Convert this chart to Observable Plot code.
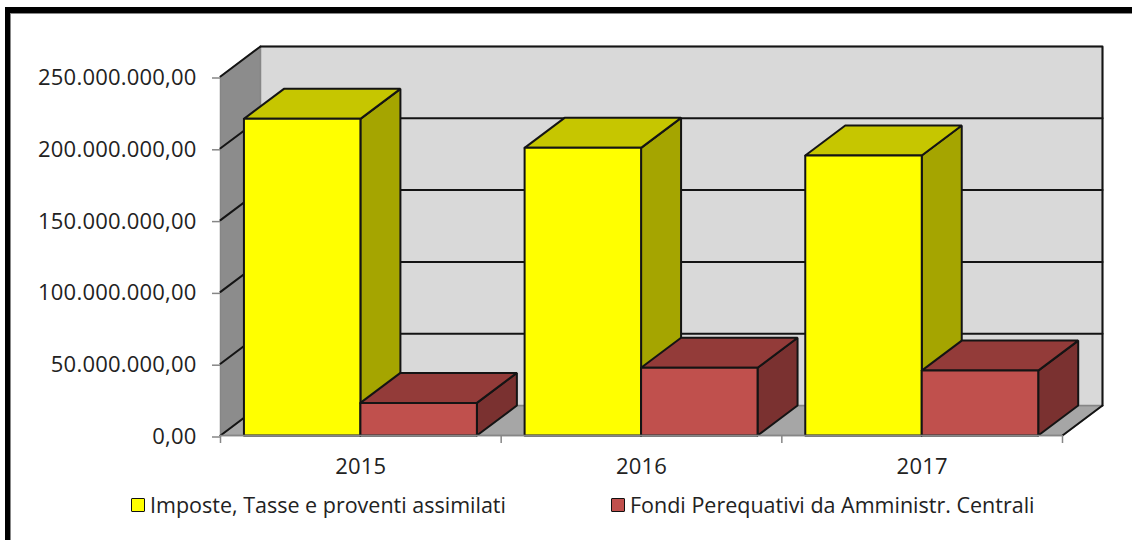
<!DOCTYPE html>
<html><head><meta charset="utf-8">
<script src="https://cdn.jsdelivr.net/npm/d3@7"></script>
<script src="https://cdn.jsdelivr.net/npm/@observablehq/plot@0.6"></script>
<style>
html,body{margin:0;padding:0;background:#fff;width:1132px;height:540px;overflow:hidden;position:relative}
#frame{position:absolute;left:5px;top:7px;right:-10px;bottom:-10px;border-top:6px solid #000;border-left:5px solid #000;box-shadow:inset 1px 1px 0 #888}
#chart{position:absolute;left:0;top:0}
#chart text{letter-spacing:.2px}
#legend{position:absolute;left:0;top:490px;width:1132px;height:30px;font:21.5px "Open Sans",sans-serif;color:#222}
.item{position:absolute;top:2px;white-space:nowrap;line-height:26px}
.sw{position:absolute;left:0;top:6px;width:12px;height:12px;border:1.5px solid #111;border-radius:1px}
.item span{position:absolute;left:19px;top:0}
</style></head><body>
<div id="chart"></div>
<div id="legend"></div>
<div id="frame"></div>
<script>
const years = ["2015", "2016", "2017"];
const imposte = [220.5e6, 200.3e6, 195e6];
const fondi = [22.7e6, 47.2e6, 45.2e6];
const seriesNames = ["Imposte, Tasse e proventi assimilati", "Fondi Perequativi da Amministr. Centrali"];
const yTicks = [0, 50e6, 100e6, 150e6, 200e6, 250e6];
const catEdges = [0, 1, 2, 3];
const catCentres = [0.5, 1.5, 2.5];

const depthX = 0.1425, depthY = 20.9e6, gap = 0.0835, barW = 0.415;
const yMax = 250e6, nCat = years.length;
const fmt = v => new Intl.NumberFormat("it-IT", {minimumFractionDigits: 2, maximumFractionDigits: 2, useGrouping: "always"}).format(v).replace(/^(\d{1,3})(\d{3})(,|\.)/, "$1.$2$3");

const edge = "#141414", soft = "#868686";
const poly = (pts, fill, stroke = edge, sw = 2) =>
  Plot.line([...pts, pts[0]].map(([x, y]) => ({x, y})), {x: "x", y: "y", fill, stroke, strokeWidth: sw, curve: "linear", strokeLinejoin: "miter"});
const seg = (pts, stroke = edge, sw = 2) =>
  Plot.line(pts.map(([x, y]) => ({x, y})), {x: "x", y: "y", stroke, strokeWidth: sw, curve: "linear"});

function box(x0, v, front, top, side) {
  const x1 = x0 + barW;
  return [
    poly([[x1, 0], [x1 + depthX, depthY], [x1 + depthX, v + depthY], [x1, v]], side),
    poly([[x0, v], [x0 + depthX, v + depthY], [x1 + depthX, v + depthY], [x1, v]], top),
    poly([[x0, 0], [x0, v], [x1, v], [x1, 0]], front)
  ];
}

const walls = [
  poly([[0, 0], [depthX, depthY], [nCat + depthX, depthY], [nCat, 0]], "#a6a6a6", soft, 1.5),
  poly([[0, 0], [0, yMax], [depthX, yMax + depthY], [depthX, depthY]], "#8c8c8c", soft, 1.5),
  poly([[depthX, depthY], [depthX, yMax + depthY], [nCat + depthX, yMax + depthY], [nCat + depthX, depthY]], "#d9d9d9", soft, 1.5),
  seg([[depthX, yMax + depthY], [nCat + depthX, yMax + depthY], [nCat + depthX, depthY]]),
  seg([[nCat, 0], [nCat + depthX, depthY]]),
  ...yTicks.map(t => seg([[0, t], [depthX, t + depthY]])),
  ...yTicks.slice(1, -1).map(t => seg([[depthX, t + depthY], [nCat + depthX, t + depthY]]))
];

const bars = years.flatMap((_, i) => [
  ...box(i + gap, imposte[i], "#ffff00", "#c6c600", "#a5a500"),
  ...box(i + gap + barW, fondi[i], "#c0504d", "#933b39", "#7a3130")
]);

const plot = Plot.plot({
  width: 1132, height: 490,
  marginLeft: 220, marginRight: 70, marginTop: 76, marginBottom: 55,
  style: {background: "transparent", fontFamily: '"Open Sans",sans-serif', overflow: "visible"},
  x: {type: "linear", domain: [0, nCat]},
  y: {type: "linear", domain: [0, yMax]},
  marks: [
    ...walls,
    ...bars,
    Plot.ruleY([0], {stroke: soft, strokeWidth: 1.5}),
    Plot.axisY({ticks: yTicks, tickSize: 8, tickPadding: 16, tickFormat: fmt, label: null, stroke: soft, strokeWidth: 1.5, fill: "#222", fontSize: 22, dy: 1.5}),
    Plot.axisX({ticks: catEdges, tickSize: 8, tickFormat: () => "", label: null, stroke: soft, strokeWidth: 1.5}),
    Plot.axisX({ticks: catCentres, tickSize: 0, tickPadding: 23, tickFormat: d => years[Math.floor(d)], label: null, fill: "#222", fontSize: 22})
  ]
});
document.getElementById("chart").append(plot);

const legend = document.getElementById("legend");
const legendColours = ["#ffff00", "#c0504d"], legendLeft = [131, 611];
seriesNames.forEach((name, i) => {
  const it = document.createElement("div");
  it.className = "item";
  it.style.left = legendLeft[i] + "px";
  const sw = document.createElement("div");
  sw.className = "sw"; sw.style.background = legendColours[i];
  const t = document.createElement("span");
  t.textContent = name;
  it.append(sw, t);
  legend.append(it);
});
</script>
</body></html>
